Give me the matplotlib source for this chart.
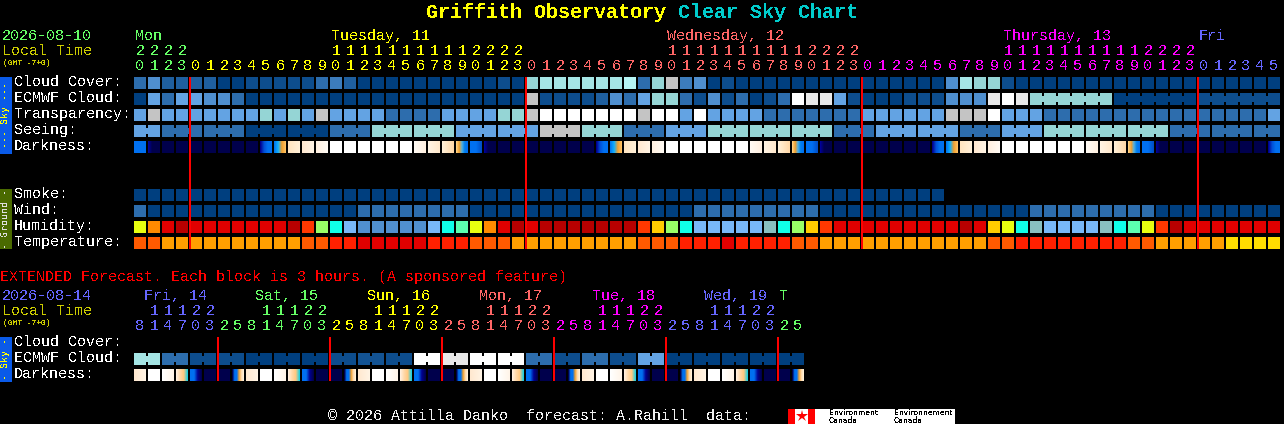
import numpy as np
import matplotlib
matplotlib.use("Agg")
import matplotlib.pyplot as plt
import matplotlib.colors as mcolors

plt.rcParams['font.family'] = ['Liberation Mono', 'DejaVu Sans Mono']
plt.rcParams['text.antialiased'] = False
plt.rcParams['text.hinting'] = 'native'

# block colours
sky = {'A': '#003f7f', 'B': '#0d4d8d', 'M': '#135393', 'I': '#1f5f9f', 'C': '#2d6dad',
       'J': '#3c7cbc', 'D': '#4f8fcf', 'E': '#63a3e3', 'F': '#95d5d5', 'G': '#a5e5e5',
       'H': '#b5f5f5', 'K': '#c4c4c4', 'L': '#e8e8e8', 'W': '#ffffff'}
humid_col = {'Y': '#e8ff10', 'O': '#ff8a00', 'R': '#e00000', 'D': '#b80000', 'Q': '#ff3800',
             'G': '#99ff66', 'C': '#10ffe8', 'L': '#78b8f8', 'M': '#5090d0', 'S': '#5cffb0',
             'Z': '#ffcc00', 'T': '#88c0c0'}
temp_col = {'P': '#ff5a00', 'A': '#ff9f00', 'R': '#ff2000', 'X': '#e00000', 'Y': '#ffdd00'}
# darkness blocks shade across the block, left to right
dark_col = {'n': ['#00004c'],
            'b': ['#0070f0'],
            'd': ['#000098', '#00004c', '#00004c', '#00004c'],
            'a': ['#000090', '#0050d8', '#0070f0', '#0070f0'],
            't': ['#0078f0', '#10b0ff', '#f0a030', '#ffc060'],
            '1': ['#ffe4c0', '#fff0d8'],
            '2': ['#ffe8d0', '#fff4e4'],
            '3': ['#fff0e0', '#fffaf4'],
            'w': ['#ffffff'],
            '4': ['#fffaf4', '#fff0e0'],
            '5': ['#fff4e4', '#ffe8cc'],
            '6': ['#fff0d8', '#ffd8a8'],
            'T': ['#ffd080', '#f0a030', '#50b0e0', '#0080f0', '#0070f0'],
            'B': ['#0070f0', '#0070f0', '#0050c8'],
            'r': ['#ffffff', '#fff4e8'],
            's': ['#ffeedd', '#ffd8a8', '#ffc880', '#20d0e0'],
            'u': ['#0070f0', '#0070f0', '#000090', '#00004c'],
            'v': ['#00004c', '#0070f0', '#0070f0', '#f0a030', '#ffd8a8', '#fff0d8']}

# hourly chart
cloud_cover = "CDIIIIAABBBBBCJIAAAAAAAAAABAFGGGGGGHCFKJDABAAAAAAAAAAAAAAADGFFBAAAAAAAAAAAAAAAAAAA"
ecmwf_cloud = "AECEEDDCAAAAAAAAAAAAAAAAAAAAKBBBBIDCEFFCBDBCABCWLLEBAAABBBDDDLWLFFFFFFAAAAAABBBBBB"
transparency = "EKEEEEEEEFEFEKEEEECCCCEEEEFFKWWWWWWWKWWEWEEEECCCCCCCEEEEEEKKKWEEECCCCCCCCCCCCCCCCE"
seeing_groups = [2] + [3] * 26 + [2]
seeing = "ECCAACFFEEKFCEFFFCEECEFFFCCC"
darkness = "bdnnnnnnnat123wwwwww456TBdnnnnnnnat123wwwwww456TBdnnnnnnnat123wwwwww456TBdnnnnnnna"
smoke = "AAAAAAAAAAAAAAAAAAAAAAAAAAAAAAAAAAAAAAAAAAAAAAAAAAAAAAAAAA"
wind = "CAAAAAAAAAAAAAAACCCCCCCCAAAAAAAAAAAAAAAACCCCCCCCCAAAAAAAAAAAAAAACCCCCCCCCAAAAAAAAA"
humidity = "YORDRRRRRRRDQGCLMMMMMLCSYORDRDDDDDDDQZGCLLLLLTCGZQRRRRRRRRRDRZYCTLLLLTCSYQDRRRRRRR"
temperature = "PPAAAAAAAAAAPPRRXXXXXRRRPPPAAAAAAAAAPPPRRRXRRRRPPAAAAAAAAAAAAPPRRRRRRRRPPAAAAAYYYY"

hour_units = ("0123"
              "012345678901234567890123"
              "012345678901234567890123"
              "012345678901234567890123"
              "012345")
hour_tens = ("2222"
             "          11111111112222"
             "          11111111112222"
             "          11111111112222"
             "      ")
hour_colors = ['#66ff66'] * 4 + ['#ffff00'] * 24 + ['#ff6666'] * 24 + ['#ff00ff'] * 24 + ['#6666ff'] * 6
day_labels = [("Mon", 0, '#66ff66'), ("Tuesday, 11", 14, '#ffff00'), ("Wednesday, 12", 38, '#ff6666'),
              ("Thursday, 13", 62, '#ff00ff'), ("Fri", 76, '#6666ff')]

# extended forecast
ext_cloud = "GCBBAAABMBWLWWCBCBEAAAAA"
ext_dark = "2wrsunnv2wrsunnv2wrsunnv2wrsunnv2wrsunnv2wrsunnv"
ext_units = "814703258147032581470325814703258147032581470325"
ext_tens = " 11122   11122   11122   11122   11122   11122  "
ext_colors = ['#6666ff'] * 6 + ['#66ff66'] * 8 + ['#ffff00'] * 8 + ['#ff6666'] * 8 + ['#ff00ff'] * 8 + ['#6666ff'] * 8 + ['#66ff66'] * 2
ext_days = [("Fri, 14", 144, '#6666ff'), ("Sat, 15", 255, '#66ff66'), ("Sun, 16", 367, '#ffff00'),
            ("Mon, 17", 479, '#ff6666'), ("Tue, 18", 592, '#ff00ff'), ("Wed, 19", 704, '#6666ff'), ("T", 779, '#66ff66')]

x0 = 134
pitch = 14
cell = 12

fig = plt.figure(figsize=(12.84, 4.24), dpi=100, facecolor='black')
ax = fig.add_axes([0, 0, 1, 1])
ax.set_facecolor('black')


def blocks(codes, y, colors):
    xs = x0 + pitch * np.arange(len(codes))
    ax.bar(xs, cell, width=cell, bottom=y, align='edge', linewidth=0, antialiased=False,
           color=[colors[c] for c in codes])


def bridge(col, y, color):
    # small join between blocks that share one forecast value
    ax.bar(x0 + pitch * col + cell, 6, width=2, bottom=y + 3, align='edge', linewidth=0,
           antialiased=False, color=color)


def shaded(codes, y):
    for i, c in enumerate(codes):
        stops = np.array([mcolors.to_rgb(s) for s in dark_col[c]])
        if len(stops) == 1:
            stops = np.vstack([stops, stops])
        pos = np.linspace(0, 1, len(stops))
        px = np.linspace(0, 1, cell)
        rgb = np.stack([np.interp(px, pos, stops[:, k]) for k in range(3)], axis=1)
        ax.imshow(rgb[np.newaxis, :, :], extent=(x0 + pitch * i, x0 + pitch * i + cell, y + cell, y),
                  aspect='auto', interpolation='nearest', zorder=2)


def label(x, y, s, color='white', size=10.8, **kw):
    ax.text(x, y, s, color=color, fontsize=size, va='baseline', ha=kw.pop('ha', 'left'), zorder=5, **kw)


# title
label(426, 18, "Griffith Observatory", color='#ffff00', size=14.4, fontweight='bold')
label(678, 18, "Clear Sky Chart", color='#00cccc', size=14.4, fontweight='bold')

# left header
label(2, 40, "2026-08-10", color='#66ff66')
label(2, 55, "Local Time", color='#cccc00')
label(3, 65, "(GMT -7+0)", color='#cccc00', size=5.8)
for text, col, color in day_labels:
    label(x0 + pitch * col + 1, 40, text, color=color)
for i in range(82):
    label(x0 + pitch * i + 6, 70, hour_units[i], color=hour_colors[i], ha='center')
    if hour_tens[i] != ' ':
        label(x0 + pitch * i + 6, 55, hour_tens[i], color=hour_colors[i], ha='center')

# sky rows
rows = [("Cloud Cover:", 77), ("ECMWF Cloud:", 93), ("Transparency:", 109), ("Seeing:", 125), ("Darkness:", 141),
        ("Smoke:", 189), ("Wind:", 205), ("Humidity:", 221), ("Temperature:", 237)]
for text, y in rows:
    label(14, y + 9, text)

blocks(cloud_cover, 77, sky)
blocks(ecmwf_cloud, 93, sky)
for i in range(64, 81):
    if ecmwf_cloud[i] == ecmwf_cloud[i + 1]:
        bridge(i, 93, sky[ecmwf_cloud[i]])
blocks(transparency, 109, sky)

seeing_cols = []
col = 0
for n, v in zip(seeing_groups, seeing):
    seeing_cols += [v] * n
    for j in range(n - 1):
        bridge(col + j, 125, sky[v])
    col += n
blocks(seeing_cols, 125, sky)
shaded(darkness, 141)

blocks(smoke, 189, sky)
blocks(wind, 205, sky)
blocks(humidity, 221, humid_col)
blocks(temperature, 237, temp_col)

# extended part
label(0, 281, "EXTENDED Forecast. Each block is 3 hours. (A sponsored feature)", color='#ff0000')
label(2, 300, "2026-08-14", color='#6666ff')
label(2, 315, "Local Time", color='#cccc00')
label(3, 325, "(GMT -7+0)", color='#cccc00', size=5.8)
for text, x, color in ext_days:
    label(x, 300, text, color=color)
for i in range(48):
    label(x0 + pitch * i + 6, 330, ext_units[i], color=ext_colors[i], ha='center')
    if ext_tens[i] != ' ':
        label(x0 + pitch * i + 6, 315, ext_tens[i], color=ext_colors[i], ha='center')
for text, y in [("Cloud Cover:", 337), ("ECMWF Cloud:", 353), ("Darkness:", 369)]:
    label(14, y + 9, text)

ext_cols = []
for k, v in enumerate(ext_cloud):
    ext_cols += [v, v]
    bridge(2 * k, 353, sky[v])
blocks(ext_cols, 353, sky)
shaded(ext_dark, 369)

# midnight lines
for x in [189, 525, 861, 1197]:
    ax.bar(x, 172, width=2, bottom=77, align='edge', linewidth=0, antialiased=False, color='#ff0000', zorder=4)
for x in [217, 329, 441, 553, 665, 777]:
    ax.bar(x, 44, width=2, bottom=337, align='edge', linewidth=0, antialiased=False, color='#ff0000', zorder=4)

# side tabs
ax.bar(0, 77, width=12, bottom=77, align='edge', linewidth=0, antialiased=False, color='#0a5ae8')
ax.bar(0, 60, width=12, bottom=189, align='edge', linewidth=0, antialiased=False, color='#4a6a00')
ax.bar(0, 45, width=12, bottom=337, align='edge', linewidth=0, antialiased=False, color='#0a5ae8')
tab_font = dict(fontsize=7.2, rotation=90, ha='center', va='center', zorder=5, family='DejaVu Sans Mono')
ax.text(5.5, 115.5, "--- Sky ---", color='#ffff00', **tab_font)
ax.text(5.5, 219, "- Ground -", color='#e0e0e0', **tab_font)
ax.text(5.5, 359.5, "- Sky -", color='#ffff00', **tab_font)

# footer
label(328, 420, "\u00a9 2026 Attilla Danko  forecast: A.Rahill  data:", color='#f0f0f0')
ax.bar(788, 15, width=167, bottom=409, align='edge', linewidth=0, antialiased=False, color='white')
ax.bar([788, 808], 15, width=7, bottom=409, align='edge', linewidth=0, antialiased=False, color='#ff0000')
ax.plot([801.5], [416], marker='*', markersize=9, color='#ff0000', markeredgewidth=0, zorder=5)
for x, top in [(829, "Environment"), (894, "Environnement")]:
    ax.text(x, 415, top, color='black', fontsize=5.5, va='baseline', zorder=5, family='DejaVu Sans')
    ax.text(x, 423, "Canada", color='black', fontsize=5.5, va='baseline', zorder=5, family='DejaVu Sans')

ax.set_xlim(0, 1284)
ax.set_ylim(424, 0)
ax.axis('off')
fig.savefig("out.png", dpi=100, facecolor='black')
